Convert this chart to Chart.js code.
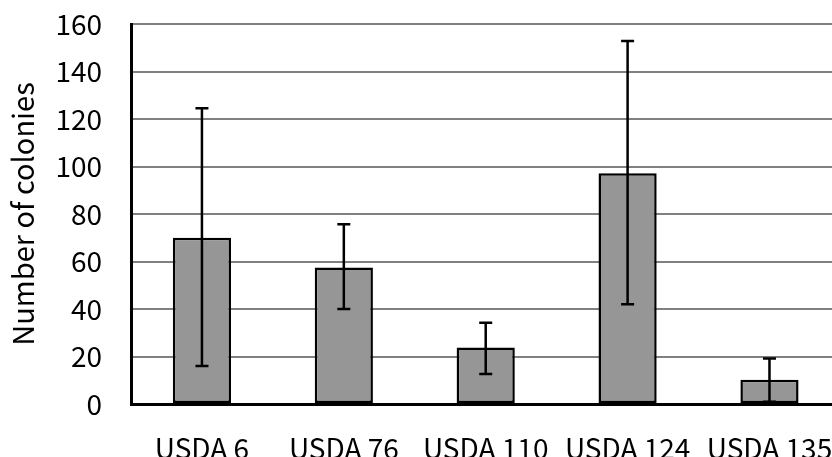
<!DOCTYPE html>
<html>
<head>
<meta charset="utf-8">
<script src="https://cdn.jsdelivr.net/npm/chart.js@4/dist/chart.umd.min.js"></script>
<style>
  html, body { margin: 0; padding: 0; background: #fff; overflow: hidden; }
  #wrap { width: 853px; height: 457px; }
</style>
</head>
<body>
<div id="wrap"><canvas id="chartColonies"></canvas></div>
<script>
// data
const strains = ['USDA 6', 'USDA 76', 'USDA 110', 'USDA 124', 'USDA 135'];
const colonies = [70, 57.5, 23.8, 97.2, 10.2];
const errHigh = [124.5, 75.7, 34.2, 152.8, 19.2];
const errLow = [16, 40, 12.6, 42, 1];
const yTicks = [0, 20, 40, 60, 80, 100, 120, 140, 160];

// draws the min/max whiskers on top of the bars
const errorBars = {
    id: 'errorBars',
    afterDatasetsDraw(chart) {
        const ctx = chart.ctx;
        const y = chart.scales.y;
        ctx.save();
        ctx.strokeStyle = '#000';
        ctx.lineWidth = 2.5;
        chart.getDatasetMeta(0).data.forEach(function (bar, i) {
            const top = y.getPixelForValue(errHigh[i]);
            const bot = y.getPixelForValue(errLow[i]);
            ctx.beginPath();
            ctx.moveTo(bar.x, top);
            ctx.lineTo(bar.x, bot);
            ctx.moveTo(bar.x - 6.5, top);
            ctx.lineTo(bar.x + 6.5, top);
            ctx.moveTo(bar.x - 6.5, bot);
            ctx.lineTo(bar.x + 6.5, bot);
            ctx.stroke();
        });
        ctx.restore();
    }
};

const font = { family: "'Noto Sans CJK JP', 'Liberation Sans', sans-serif", size: 28 };

new Chart(document.getElementById('chartColonies'), {
    type: 'bar',
    data: {
        labels: strains,
        datasets: [{
            data: colonies,
            backgroundColor: '#969696',
            borderColor: '#000',
            borderWidth: 2.5,
            borderSkipped: false,
            barPercentage: 0.41,
            categoryPercentage: 1
        }]
    },
    options: {
        responsive: true,
        maintainAspectRatio: false,
        animation: false,
        layout: { padding: { top: 24, right: 8, left: 0, bottom: 0 } },
        plugins: {
            legend: { display: false },
            tooltip: { enabled: false }
        },
        scales: {
            x: {
                grid: { display: false },
                border: { display: true, color: '#000', width: 3 },
                ticks: {
                    color: '#000',
                    font: font,
                    padding: 20,
                    autoSkip: false,
                    maxRotation: 0
                },
                afterFit(scale) { scale.height = 53; }
            },
            y: {
                min: 0,
                max: 160,
                afterBuildTicks(scale) {
                    scale.ticks = yTicks.map(v => ({ value: v }));
                },
                grid: { color: '#808080', lineWidth: 2, drawTicks: false, tickLength: 0 },
                border: { display: true, color: '#000', width: 3 },
                ticks: { color: '#000', font: font, padding: 29 },
                title: {
                    display: true,
                    text: 'Number of colonies',
                    color: '#000',
                    font: { family: font.family, size: 29 },
                    padding: { top: 6, bottom: 0 }
                },
                afterFit(scale) {
                    scale.width = 131;
                    scale.paddingTop = 0;
                    scale.paddingBottom = 0;
                }
            }
        }
    },
    plugins: [errorBars]
});
</script>
</body>
</html>
